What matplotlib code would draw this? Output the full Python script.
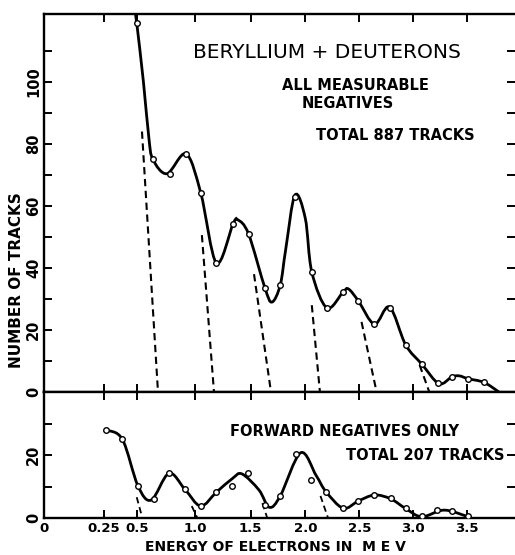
import numpy as np
import matplotlib.pyplot as plt
from matplotlib.path import Path
from matplotlib.patches import PathPatch

# --- data (energy in MeV, number of tracks) ---
# upper panel: all measurable negatives (887 tracks)
top_e = [0.50, 0.634, 0.78, 0.92, 1.05, 1.19, 1.34, 1.48, 1.63, 1.77, 1.905, 2.06,
         2.20, 2.35, 2.49, 2.64, 2.78, 2.93, 3.08, 3.23, 3.36, 3.51, 3.66]
top_n = [119, 75, 70.3, 76.8, 64.2, 41.6, 54.2, 51, 33.5, 34.5, 62.9, 38.7,
         27.1, 32.3, 29.4, 21.9, 27.1, 15.2, 9.0, 2.9, 4.8, 4.2, 3.2]

# hand drawn curve through the upper points
top_curve_e = [0.488, 0.50, 0.555, 0.60, 0.634, 0.754, 0.92, 1.05, 1.19, 1.34,
               1.384, 1.48, 1.63, 1.694, 1.77, 1.82, 1.905, 2.00, 2.06, 2.20, 2.35,
               2.40, 2.49, 2.64, 2.78, 2.93, 3.08, 3.24, 3.36, 3.43, 3.51, 3.66, 3.80]
top_curve_n = [122, 119, 100, 82, 75, 70.4, 76.8, 64.2, 41.6, 54.2,
               55.5, 51, 33.5, 29, 34.5, 46, 63.5, 56, 38.7, 27.1, 32.3,
               33.2, 29.4, 21.9, 27.4, 15.2, 9.0, 2.7, 4.9, 5.2, 4.3, 3.1, 0]

# dashed component tails (top end -> zero crossing)
top_dash_e0 = [0.543, 1.06, 1.53, 2.06, 2.52, 3.06]
top_dash_n0 = [84, 50.6, 38, 28, 22.6, 8.7]
top_dash_e1 = [0.677, 1.168, 1.685, 2.135, 2.66, 3.15]

# lower panel: forward negatives only (207 tracks)
bot_e = [0.266, 0.386, 0.51, 0.641, 0.771, 0.91, 1.049, 1.19, 1.333, 1.478, 1.63, 1.77,
         1.91, 2.05, 2.19, 2.35, 2.49, 2.64, 2.79, 2.93, 3.08, 3.22, 3.36, 3.51]
bot_n = [27.9, 25, 10.2, 5.9, 14.2, 9.1, 3.8, 8.4, 10.2, 14.4, 4.1, 7.0,
         20.3, 12.1, 8.4, 3.1, 5.4, 7.3, 6.2, 3.2, 0.5, 2.4, 2.3, 0.5]

bot_curve_e = [0.266, 0.386, 0.51, 0.62, 0.771, 0.91, 1.049, 1.19, 1.333, 1.42, 1.575,
               1.67, 1.77, 1.957, 2.10, 2.19, 2.35, 2.49, 2.64, 2.79, 2.93, 3.08,
               3.29, 3.52]
bot_curve_n = [27.9, 25, 10.2, 5.7, 14.2, 9.1, 3.8, 8.2, 12.5, 14.0, 8.9,
               3.4, 7.0, 20.7, 13.5, 8.4, 3.1, 5.4, 7.3, 6.1, 3.0, 0.4,
               2.5, 0.3]

bot_dash_e0 = [0.50, 0.97, 1.606, 2.14]
bot_dash_n0 = [6.6, 3.8, 4.7, 7.0]
bot_dash_e1 = [0.546, 1.02, 1.651, 2.21]

xticks = [0, 0.25, 0.5, 1.0, 1.5, 2.0, 2.5, 3.0, 3.5]
xticklabels = ['0', '0.25', '0.5', '1.0', '1.5', '2.0', '2.5', '3.0', '3.5']


# energy axis is drawn on a momentum-like scale
def fwd(e):
    e = np.clip(e, 0, None)
    return np.sqrt(e * (e + 1.022))


def inv(p):
    return np.sqrt(np.asarray(p) ** 2 + 0.511 ** 2) - 0.511


def smooth_curve(ax, xs, ys):
    # catmull-rom in scaled x, turned into cubic bezier segments
    pts = np.column_stack([fwd(np.array(xs)), ys])
    ext = np.vstack([pts[0], pts, pts[-1]])
    verts = [pts[0]]
    codes = [Path.MOVETO]
    for i in range(len(pts) - 1):
        p0, p1, p2, p3 = ext[i], ext[i + 1], ext[i + 2], ext[i + 3]
        c1 = p1 + (p2 - p0) / 6
        c2 = p2 - (p3 - p1) / 6
        verts += [c1, c2, p2]
        codes += [Path.CURVE4] * 3
    verts = np.array(verts)
    verts[:, 0] = inv(verts[:, 0])
    ax.add_patch(PathPatch(Path(verts, codes), fill=False, lw=2.0,
                           color='black', capstyle='round', zorder=3))


W, H = 515, 555
fig = plt.figure(figsize=(W / 100, H / 100), dpi=100)
left, right, top, mid, bottom = 44, 515, 14, 392, 518
ax1 = fig.add_axes([left / W, 1 - mid / H, (right - left) / W, (mid - top) / H])
ax2 = fig.add_axes([left / W, 1 - bottom / H, (right - left) / W, (bottom - mid) / H])

for ax in (ax1, ax2):
    ax.set_xscale('function', functions=(fwd, inv))
    ax.set_xlim(0, 3.95)
    ax.spines['right'].set_visible(False)
    for s in ('left', 'top', 'bottom'):
        ax.spines[s].set_linewidth(1.7)
    ax.set_xticks(xticks)
    ax.tick_params(axis='both', which='both', direction='in', length=6, width=1.4,
                   top=True, bottom=True, left=True, right=True)
    ax.tick_params(axis='y', pad=2)

ax1.set_ylim(0, 121.9)
ax2.set_ylim(0, 40)
ax1.set_yticks([0, 20, 40, 60, 80, 100])
ax1.set_yticks(np.arange(10, 121, 20), minor=True)
ax2.set_yticks([0, 20])
ax2.set_yticks([10, 30], minor=True)
ax1.set_xticklabels([])
ax2.set_xticklabels(xticklabels, fontsize=9.5, fontweight='bold')
ax2.tick_params(axis='x', pad=3)
for ax in (ax1, ax2):
    for lab in ax.get_yticklabels():
        lab.set_rotation(90)
        lab.set_va('center')
        lab.set_fontsize(10.5)
        lab.set_fontweight('bold')

# curves, points, dashed tails
smooth_curve(ax1, top_curve_e, top_curve_n)
smooth_curve(ax2, bot_curve_e, bot_curve_n)
ax1.plot(top_e, top_n, 'o', ms=4, mfc='white', mec='black', mew=1.0, zorder=4)
ax2.plot(bot_e, bot_n, 'o', ms=4, mfc='white', mec='black', mew=1.0, zorder=4)
for e0, n0, e1 in zip(top_dash_e0, top_dash_n0, top_dash_e1):
    ax1.plot([e0, e1], [n0, 0], color='black', lw=1.5, dashes=(3.5, 2.2))
for e0, n0, e1 in zip(bot_dash_e0, bot_dash_n0, bot_dash_e1):
    ax2.plot([e0, e1], [n0, 0], color='black', lw=1.3, dashes=(3.5, 2.2))

# text
def put(px, py, s, **kw):
    fig.text(px / W, 1 - py / H, s, ha='center', va='center', **kw)

put(327, 52, 'BERYLLIUM + DEUTERONS', fontsize=14.5)
put(355, 85, 'ALL MEASURABLE', fontsize=10.5, fontweight='bold')
put(348, 104, 'NEGATIVES', fontsize=10.5, fontweight='bold')
put(395, 136, 'TOTAL 887 TRACKS', fontsize=10.5, fontweight='bold')
put(344, 432, 'FORWARD NEGATIVES ONLY', fontsize=10.5, fontweight='bold')
put(425, 455, 'TOTAL 207 TRACKS', fontsize=10.5, fontweight='bold')
put(275, 547, 'ENERGY OF ELECTRONS IN  M E V', fontsize=10, fontweight='bold')
put(17, 280, 'NUMBER OF TRACKS', fontsize=11, fontweight='bold', rotation=90)

fig.savefig('out.png', dpi=100)
